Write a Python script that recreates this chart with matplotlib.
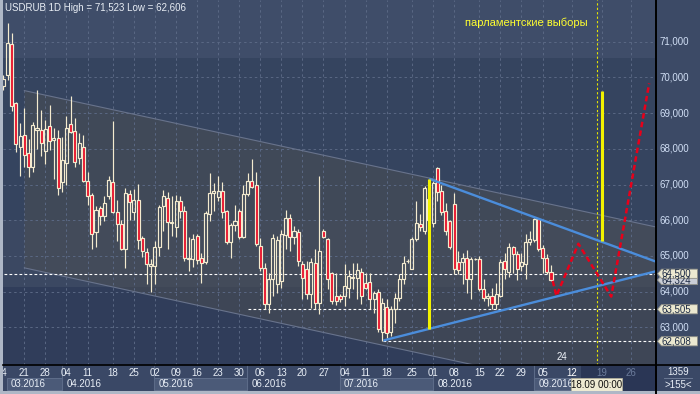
import matplotlib
matplotlib.use('Agg')
import matplotlib.pyplot as plt
from matplotlib.patches import Rectangle, Polygon
from matplotlib.lines import Line2D

plt.rcParams['font.family'] = ['Liberation Sans', 'DejaVu Sans']

# daily bars, 14.03.2016 .. 07.09.2016 (bar index = position on the time axis)
opens = [69.75, 70.06, 70.93, 69.27, 68.06, 68.39, 67.88, 67.49, 68.53, 68.53,
         67.95, 68.64, 68.25, 68.29, 67.08, 67.61, 68.70, 68.49, 67.74, 68.06,
         67.09, 66.71, 65.66, 66.34, 66.11, 66.69, 67.06, 66.22, 65.90, 65.18,
         66.73, 66.22, 66.57, 65.50, 65.10, 64.71, 64.71, 65.25, 66.40, 66.62,
         65.93, 65.81, 66.54, 66.26, 64.91, 64.92, 65.55, 64.94, 64.82, 66.18,
         66.76, 66.65, 66.83, 66.25, 65.39, 65.86, 66.27, 65.53, 66.74, 67.11,
         66.99, 65.27, 64.66, 63.64, 64.34, 64.20, 64.30, 65.59, 66.06, 65.53,
         65.67, 64.78, 64.64, 63.92, 64.80, 63.67, 65.71, 65.48, 64.51, 63.89,
         63.87, 63.87, 64.11, 64.38, 64.39, 64.54, 64.25, 64.26, 63.80, 63.98,
         62.87, 63.58, 62.87, 63.52, 63.83, 64.34, 64.85, 64.64, 65.46, 65.90,
         65.69, 66.00, 65.92, 67.46, 66.83, 66.25, 65.97, 66.46, 64.82, 64.82,
         64.94, 64.36, 64.90, 64.92, 64.06, 63.81, 63.89, 63.64, 63.89, 64.85,
         64.54, 65.25, 65.04, 64.73, 64.76, 65.40, 65.44, 66.03, 65.22, 64.94,
         64.54]
highs = [70.06, 71.52, 71.25, 69.32, 68.72, 69.13, 68.27, 68.76, 69.65, 69.09,
         68.81, 69.23, 68.58, 68.53, 68.34, 68.92, 69.48, 68.85, 68.44, 68.39,
         67.36, 66.76, 66.40, 66.39, 66.67, 67.24, 68.79, 66.57, 66.01, 66.90,
         66.85, 66.87, 67.02, 65.55, 65.22, 64.90, 65.41, 66.43, 66.85, 66.78,
         66.67, 66.71, 66.67, 66.39, 65.53, 65.60, 65.60, 65.08, 66.25, 67.32,
         67.04, 67.24, 67.08, 66.29, 65.92, 66.43, 66.31, 66.99, 67.32, 67.71,
         67.36, 65.50, 64.80, 64.53, 65.60, 65.55, 65.73, 66.29, 66.18, 65.83,
         65.76, 64.85, 64.85, 64.94, 65.18, 67.24, 65.75, 65.50, 64.54, 64.53,
         63.92, 64.76, 64.60, 64.79, 64.81, 64.66, 64.53, 64.51, 64.03, 64.06,
         63.83, 63.80, 63.59, 63.97, 64.48, 64.99, 64.90, 65.53, 66.55, 66.18,
         66.95, 67.15, 67.11, 67.49, 67.00, 66.48, 66.01, 66.76, 65.15, 65.08,
         65.17, 64.98, 64.95, 65.00, 64.34, 63.97, 64.10, 64.25, 64.90, 65.08,
         65.36, 65.29, 65.15, 65.08, 65.60, 65.70, 66.06, 66.06, 65.30, 65.04,
         64.75]
lows = [69.64, 69.92, 69.07, 67.92, 67.25, 67.50, 67.21, 67.36, 67.99, 67.80,
        67.58, 67.97, 67.15, 66.71, 66.80, 66.99, 68.45, 67.50, 67.58, 67.08,
        66.43, 65.18, 65.25, 65.87, 65.97, 66.60, 66.20, 65.41, 65.16, 64.66,
        66.01, 66.01, 65.20, 64.97, 64.20, 63.98, 64.20, 65.01, 65.69, 65.18,
        65.57, 65.53, 66.06, 64.85, 64.57, 64.69, 64.76, 64.25, 64.76, 65.99,
        66.25, 66.55, 66.06, 65.34, 64.94, 65.69, 65.46, 65.50, 66.68, 66.90,
        65.27, 64.57, 63.52, 63.40, 63.87, 63.95, 64.10, 65.18, 65.13, 65.32,
        64.71, 63.78, 63.78, 63.55, 63.52, 63.36, 65.50, 64.06, 63.64, 63.62,
        63.70, 63.61, 63.83, 64.06, 63.78, 63.64, 64.06, 63.52, 63.40, 62.87,
        62.61, 62.71, 62.76, 63.13, 63.73, 64.22, 64.80, 64.64, 65.41, 65.69,
        65.60, 65.60, 65.80, 66.53, 66.15, 65.59, 65.20, 64.48, 64.48, 64.22,
        63.97, 63.80, 64.88, 64.01, 63.73, 63.59, 63.50, 63.50, 63.85, 64.34,
        64.40, 64.53, 64.32, 64.57, 64.34, 65.30, 65.40, 65.13, 64.53, 64.48,
        64.30]
closes = [69.95, 70.95, 69.20, 68.14, 68.36, 67.83, 67.49, 68.66, 68.58, 68.17,
          68.55, 68.23, 68.30, 66.90, 67.69, 68.58, 68.48, 67.64, 68.17, 67.11,
          66.68, 65.61, 66.29, 66.11, 66.48, 67.13, 66.22, 65.89, 65.18, 66.76,
          66.51, 66.57, 65.45, 65.15, 64.76, 64.78, 65.25, 66.37, 66.68, 65.94,
          65.95, 66.55, 66.26, 64.94, 64.93, 65.46, 64.88, 64.80, 66.20, 66.76,
          66.82, 66.83, 66.23, 65.39, 65.87, 65.97, 65.52, 66.74, 67.10, 66.93,
          65.32, 64.66, 63.64, 64.34, 65.50, 65.45, 65.61, 66.06, 65.53, 65.71,
          64.87, 64.39, 63.92, 64.82, 63.67, 65.13, 65.53, 64.36, 63.73, 63.73,
          63.78, 64.15, 64.43, 64.42, 64.60, 63.87, 64.11, 63.80, 63.97, 62.94,
          63.69, 62.85, 63.52, 63.83, 64.34, 64.80, 64.87, 65.46, 65.92, 65.81,
          66.90, 66.60, 67.05, 66.80, 66.22, 65.69, 65.25, 64.62, 64.60, 64.94,
          64.36, 64.90, 64.92, 64.06, 63.83, 63.89, 63.64, 63.92, 64.82, 64.62,
          65.25, 65.04, 64.62, 64.82, 65.38, 65.46, 66.03, 65.18, 64.94, 64.54,
          64.32]

day_ticks = [-0.3, 5, 10, 15, 20, 26, 31, 36, 41, 46, 51, 56, 61, 66, 71, 76,
             81, 86, 91, 97, 102, 107, 113, 118, 123, 128, 135, 142, 149]
day_labels = ['14', '21', '28', '04', '11', '18', '25', '02', '09', '16', '23', '30',
              '06', '13', '20', '27', '04', '11', '18', '25', '01', '08', '15', '22',
              '29', '05', '12', '19', '26']
month_starts = [-1.0, 14.0, 35.8, 57.9, 79.9, 102.1, 126.0]
month_labels = ['03.2016', '04.2016', '05.2016', '06.2016', '07.2016', '08.2016', '09.2016']
price_ticks = [63, 64, 65, 66, 67, 68, 69, 70, 71]

# analyst drawings (bar index, price)
channel_upper = [(5.0, 69.63), (160.0, 65.68)]
channel_width = 4.965
tri_upper = [(101.1, 67.16), (154.9, 64.84)]
tri_lower = [(90.2, 62.63), (154.9, 64.57)]
yellow_1 = [(101.1, 62.96), (101.1, 67.16)]
yellow_2 = [(142.0, 65.43), (142.0, 69.63)]
forecast_x = [130.4, 131.3, 136.5, 144.3, 153.3]
forecast_y = [64.30, 63.88, 65.34, 63.86, 69.83]
event_bar = 141.0
levels = [(64.500, -1.0), (63.505, 58.0), (62.608, 90.2)]
last_price = 64.324

W, H = 700, 394
K0, DK = 3.3, 4.213      # pixel x of bar 0, pixels per bar
PY, PP, DP = 41.7, 71.0, 35.7  # pixel y of price PP, pixels per rouble

CREAM = '#f4ebcf'
RED = '#e8102a'
LABEL = '#d0def4'
FS = 7.0


def pbox(l, t, r, b):
    return [l / W, 1 - b / H, (r - l) / W, (b - t) / H]


def k_of(px):
    return (px - K0) / DK


def p_of(py):
    return PP - (py - PY) / DP


def clean(a):
    a.set_xticks([])
    a.set_yticks([])
    for s in a.spines.values():
        s.set_visible(False)


fig = plt.figure(figsize=(W / 100, H / 100), dpi=100, facecolor='#aeb7c6')
ax = fig.add_axes(pbox(3, 0, 656, 365))
ax_r = fig.add_axes(pbox(656, 0, 700, 365))
ax_t = fig.add_axes(pbox(3, 365, 656, 391))
ax_c = fig.add_axes(pbox(656, 365, 700, 391))
for a in (ax, ax_r, ax_t, ax_c):
    clean(a)

xlim = (k_of(3), k_of(656))
ylim = (p_of(365), p_of(0))

# ---- main chart
ax.set_xlim(*xlim)
ax.set_ylim(*ylim)
ax.set_facecolor('#35445f')
ax.axhspan(p_of(58), 80, color='#3f4d69', lw=0, zorder=0)
ax.axhspan(p_of(287), p_of(220), color='#3b4862', lw=0, zorder=0)
ax.axhspan(50, p_of(287), color='#303d5a', lw=0, zorder=0)

(cx0, cy0), (cx1, cy1) = channel_upper
ax.add_patch(Polygon([(cx0, cy0), (cx1, cy1), (cx1, cy1 - channel_width), (cx0, cy0 - channel_width)],
                     closed=True, facecolor='#4c4f53', alpha=0.5, lw=0, zorder=1))
ax.plot([cx0, cx1], [cy0, cy1], color='#68738c', lw=0.8, zorder=1.5)
ax.plot([cx0, cx1], [cy0 - channel_width, cy1 - channel_width], color='#68738c', lw=0.8, zorder=1.5)

grid_kw = dict(color='#5a6884', lw=0.7, linestyles=(0, (2.5, 3)), zorder=1.2)
ax.hlines(price_ticks, xlim[0], xlim[1], **grid_kw)
ax.vlines(day_ticks[1:], ylim[0], ylim[1], **grid_kw)

for val, start in levels:
    ax.hlines(val, start, xlim[1] + 1, color='white', lw=0.8, linestyles=(0, (2.5, 2)), zorder=2)

for i, (o, h, l, c) in enumerate(zip(opens, highs, lows, closes)):
    top, bot = max(o, c), min(o, c)
    ax.vlines(i, top, h, color=CREAM, lw=0.85, zorder=4)
    ax.vlines(i, l, bot, color=CREAM, lw=0.85, zorder=4)
    ax.add_patch(Rectangle((i - 0.36, bot), 0.72, max(top - bot, 0.015),
                           facecolor=RED if c < o else 'none', edgecolor=CREAM, lw=0.85, zorder=5))

ax.axvline(event_bar, color='#e6e600', lw=0.8, ls=(0, (2, 2)), zorder=3)
for seg in (tri_upper, tri_lower):
    ax.plot([seg[0][0], seg[1][0]], [seg[0][1], seg[1][1]], color='#4b8ddb', lw=1.7,
            solid_capstyle='butt', zorder=6)
for seg in (yellow_1, yellow_2):
    ax.plot([seg[0][0], seg[1][0]], [seg[0][1], seg[1][1]], color='#f2f200', lw=2.2,
            solid_capstyle='butt', zorder=6)
ax.plot(forecast_x, forecast_y, color='#e8001a', lw=1.8, dashes=(2.2, 1.3), zorder=7)

ax.text(k_of(526), p_of(23), 'парламентские выборы', color='#ffff30', fontsize=8,
        ha='center', va='center', zorder=8)
ax.text(k_of(562), p_of(357), '24', color='#f0f4fa', fontsize=FS, ha='center', va='center', zorder=8)
fig.text(5 / W, 1 - 8 / H, 'USDRUB 1D High = 71,523 Low = 62,606', color='#e8edf4',
         fontsize=FS, va='center')

# ---- right price scale
ax_r.set_xlim(0, 44)
ax_r.set_ylim(*ylim)
ax_r.set_facecolor('#3c4a66')
for p in price_ticks:
    ax_r.text(3, p, f'{p},000', color=LABEL, fontsize=FS, va='center')

hb = 4.6 / DP
badges = [(last_price, '#c9cdd6'), (levels[0][0], '#ebe8d0'), (levels[1][0], '#ebe8d0'), (levels[2][0], '#ebe8d0')]
for val, fc in badges:
    ax_r.add_patch(Polygon([(1.5, val), (5.5, val + hb), (41.5, val + hb), (41.5, val - hb), (5.5, val - hb)],
                           closed=True, facecolor=fc, edgecolor='#8e8e86', lw=0.6, zorder=3))
    ax_r.text(6, val, f'{val:.3f}'.replace('.', ','), color='#1c2a44', fontsize=FS, va='center', zorder=4)

# ---- time scale
ax_t.set_xlim(*xlim)
ax_t.set_ylim(26, 0)
ax_t.set_facecolor('#3a4866')
ax_t.add_patch(Rectangle((k_of(580.7), 0), 40, 26, facecolor='#2a3655', lw=0, zorder=0.5))
for j, (m0, lab) in enumerate(zip(month_starts, month_labels)):
    m1 = month_starts[j + 1] if j + 1 < len(month_starts) else k_of(573)
    if j % 2 == 0:
        x0 = max(m0, k_of(7))
        ax_t.add_patch(Rectangle((x0, 12.5), m1 - x0, 12.5, facecolor='#4b5a78',
                                 edgecolor='#5e6d8a', lw=0.7, zorder=1))
    ax_t.text(max(m0, k_of(7)) + 0.95, 19, lab, color='#e8eef6', fontsize=FS, va='center', zorder=3)
ax_t.vlines(month_starts[1:], 0, 26, color='#5c6b88', lw=0.8, zorder=1)
for k, lab in zip(day_ticks, day_labels):
    col = '#6b7b9b' if k > 137 else ('#ffffff' if k == 135 else '#e8eef6')
    ax_t.text(k, 8, lab, color=col, fontsize=FS, ha='center', va='center', clip_on=True, zorder=3)
ax_t.add_patch(Rectangle((k_of(571), 13), k_of(622) - k_of(571), 12.5, facecolor='#eeead2',
                         edgecolor='#b0ae9c', lw=0.6, zorder=4))
ax_t.text((k_of(571) + k_of(622)) / 2, 19.5, '18.09 00:00', color='#101010', fontsize=FS,
          ha='center', va='center', zorder=5)

# ---- corner box
ax_c.set_xlim(0, 44)
ax_c.set_ylim(26, 0)
ax_c.set_facecolor('#3a4866')
ax_c.text(22, 7, '1359', color='#e8eef6', fontsize=FS, ha='center', va='center')
ax_c.text(22, 19.5, '>155<', color='#e8eef6', fontsize=FS, ha='center', va='center')
ax_c.plot([8, 36], [13.3, 13.3], color='#6a7893', lw=0.7)

fig.add_artist(Line2D([656 / W, 656 / W], [0, 1], color='black', lw=1.4, transform=fig.transFigure))
fig.add_artist(Line2D([3 / W, 1], [1 - 365 / H, 1 - 365 / H], color='black', lw=1.2,
                      transform=fig.transFigure))

fig.savefig('out.png', dpi=100, facecolor=fig.get_facecolor())
